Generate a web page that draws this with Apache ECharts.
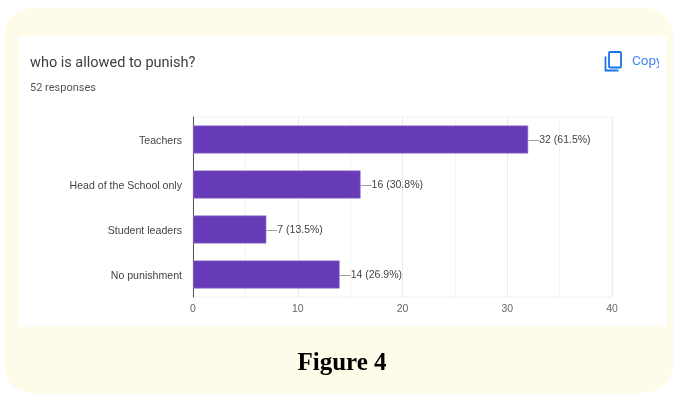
<!DOCTYPE html>
<html><head><meta charset="utf-8">
<style>html,body{margin:0;padding:0;background:#fff}#c{width:674px;height:393px}</style>
<script src="https://cdn.jsdelivr.net/npm/echarts@6/dist/echarts.min.js"></script>
</head><body><div id="c"></div>
<script>
const categories = ['Teachers', 'Head of the School only', 'Student leaders', 'No punishment'];
const counts = [32, 16, 7, 14];
const percents = ['61.5%', '30.8%', '13.5%', '26.9%'];
const xTicks = [0, 10, 20, 30, 40];
const chartTitle = 'who is allowed to punish?';
const subtitle = '52 responses';
const figureCaption = 'Figure 4';

const chart = echarts.init(document.getElementById('c'), null, {renderer: 'canvas'});
chart.setOption({
  animation: false,
  backgroundColor: '#ffffff',
  grid: {show: true, borderColor: '#f0f0f0', borderWidth: 1, left: 193, top: 117, width: 419, height: 180, containLabel: false},
  xAxis: {
    type: 'value', min: xTicks[0], max: xTicks[xTicks.length - 1], interval: 10,
    axisLine: {show: false}, axisTick: {show: false},
    axisLabel: {color: '#666', fontFamily: 'Liberation Sans', fontSize: 10.5, margin: 7},
    splitLine: {show: true, lineStyle: {color: '#ebebeb', width: 1}},
    minorTick: {show: false, splitNumber: 2},
    minorSplitLine: {show: true, lineStyle: {color: '#f3f3f3', width: 1}}
  },
  yAxis: {
    type: 'category', inverse: true, data: categories,
    axisLine: {show: true, onZero: false, lineStyle: {color: '#555', width: 1}},
    axisTick: {show: false},
    axisLabel: {
      margin: 11,
      formatter: v => '{cat|' + v + '}',
      rich: {cat: {color: '#444', fontFamily: 'Liberation Sans', fontSize: 10.6, padding: [3, 0, 0, 0]}}
    },
    splitLine: {show: false}
  },
  series: [{
    type: 'bar', data: counts, barWidth: 28, z: 5,
    itemStyle: {color: '#673ab7', borderColor: '#9b7fd0', borderWidth: 0.6},
    label: {
      show: true, position: 'right', distance: 0, offset: [0, 1],
      fontFamily: 'Liberation Sans', fontSize: 10.5, color: '#444',
      formatter: p => '{lead|}{txt|' + p.value + ' (' + percents[p.dataIndex] + ')}',
      rich: {
        lead: {width: 11, height: 1, backgroundColor: '#a0a0a0'},
        txt: {fontFamily: 'Liberation Sans', fontSize: 10.5, color: '#444'}
      }
    }
  }],
  graphic: [
    {type: 'rect', z: -10, silent: true, shape: {x: 4, y: 8, width: 669, height: 385, r: 28}, style: {fill: '#fffbe9'}},
    {type: 'rect', z: -9, silent: true, shape: {x: 18, y: 36, width: 649, height: 291}, style: {fill: '#ffffff'}},
    {type: 'text', z: 10, silent: true, x: 30, y: 56, style: {text: chartTitle, font: '14.5px Roboto', fill: '#3c4043'}},
    {type: 'text', z: 10, silent: true, x: 30, y: 83, style: {text: subtitle, font: '11px Roboto', fill: '#555'}},
    {type: 'text', z: 10, silent: true, x: 632, y: 55, style: {text: 'Copy', font: '13.5px Roboto', fill: '#4285f4'}},
    {type: 'rect', z: 11, silent: true, shape: {x: 659, y: 50, width: 8, height: 24}, style: {fill: '#ffffff'}},
    {type: 'rect', z: 10, silent: true, shape: {x: 609, y: 52, width: 12, height: 15.5, r: 1}, style: {fill: 'none', stroke: '#1a73e8', lineWidth: 1.8}},
    {type: 'polyline', z: 10, silent: true, shape: {points: [[605.5, 56.5], [605.5, 70.5], [618.5, 70.5]]}, style: {fill: 'none', stroke: '#1a73e8', lineWidth: 1.8}},
    {type: 'text', z: 10, silent: true, x: 342, y: 351, style: {text: figureCaption, font: 'bold 25px "Liberation Serif"', fill: '#000', textAlign: 'center'}}
  ]
});
</script></body></html>
